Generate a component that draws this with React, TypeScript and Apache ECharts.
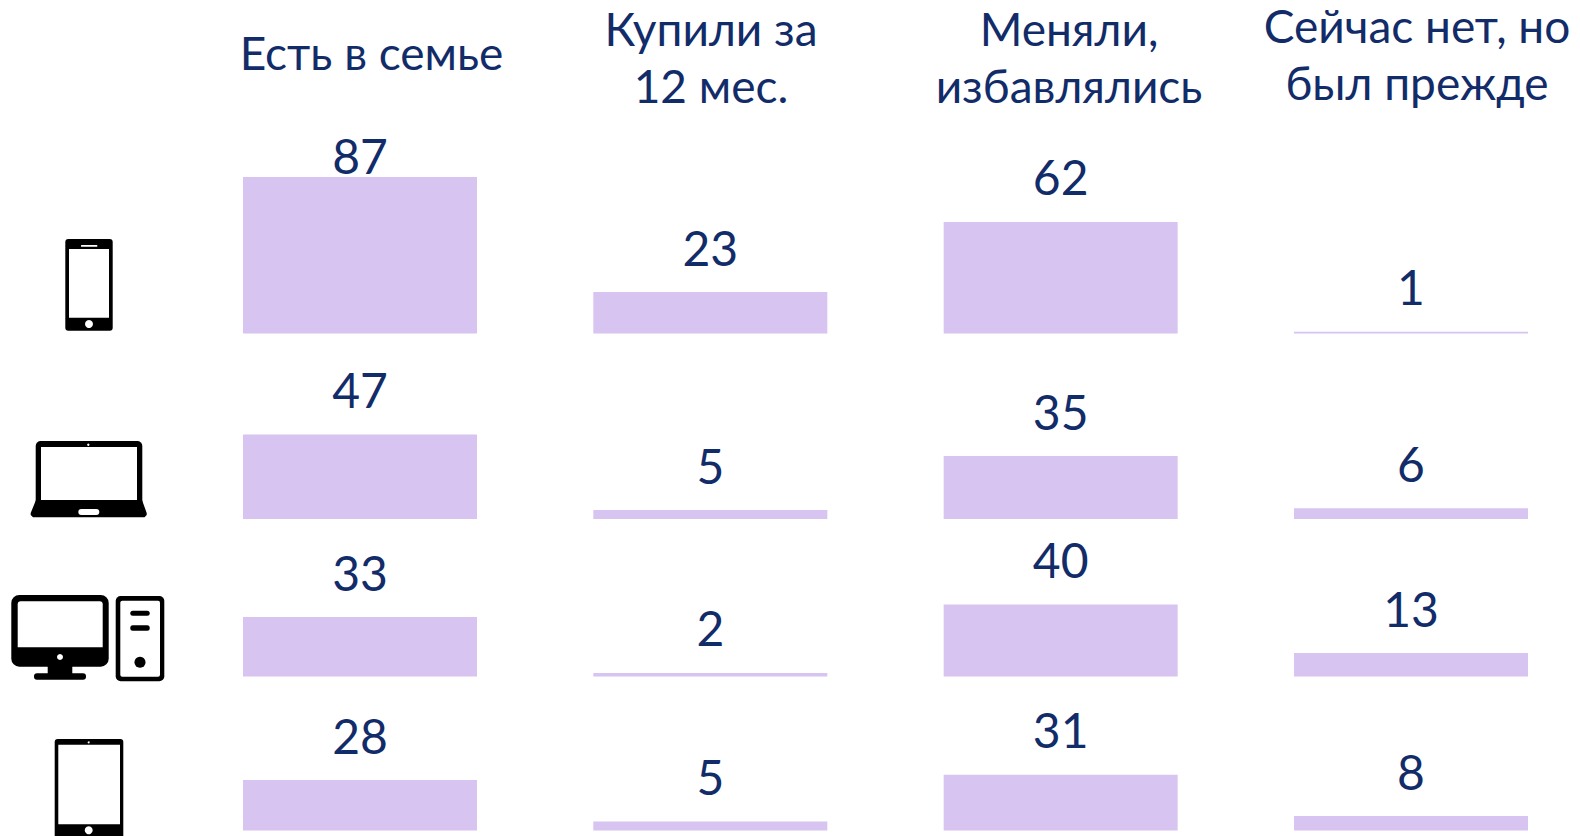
import React, { useEffect, useRef } from "react";
import * as echarts from "echarts";

const columns = ["Есть в семье", "Купили за\n12 мес.", "Меняли,\nизбавлялись", "Сейчас нет, но\nбыл прежде"];
const phone = [87, 23, 62, 1];
const laptop = [47, 5, 35, 6];
const desktop = [33, 2, 40, 13];
const tablet = [28, 5, 31, 8];
const rows = [phone, laptop, desktop, tablet];
const baselines = [333.5, 519, 676.5, 830.5];
const titleX = [371.5, 711, 1069, 1417];
const titleY = [52, 57, 57, 54];

const FONT = "Lato, 'Noto Sans', sans-serif";
const TEXT = "#122C69";
const BAR = "#D7C4F0";
const K = "#000";
const W = "#fff";

const rr = (x0: number, y0: number, x1: number, y1: number, r: any, fill: string) => ({
  type: "rect",
  shape: { x: x0, y: y0, width: x1 - x0, height: y1 - y0, r },
  style: { fill },
  silent: true,
});
const dot = (cx: number, cy: number, r: number, fill: string) => ({
  type: "circle",
  shape: { cx, cy, r },
  style: { fill },
  silent: true,
});

const icons = [
  // phone
  rr(65.3, 239, 112.7, 330.7, 3, K),
  rr(69, 249, 109, 317.7, 0, W),
  rr(81, 245, 97.3, 246.7, 0.5, W),
  dot(89, 324, 4, W),
  // laptop
  rr(35.7, 441, 142.3, 505, [5, 5, 0, 0], K),
  rr(41, 447, 137, 500, 0, W),
  dot(88.3, 444.7, 1.2, W),
  {
    type: "polygon",
    shape: { points: [[36, 500], [142, 500], [146.7, 513], [146.7, 515], [144.5, 517.3], [33, 517.3], [30.7, 515], [30.7, 513]] },
    style: { fill: K },
    silent: true,
  },
  rr(78.3, 509, 99.3, 515, 3, W),
  // desktop
  rr(11.3, 595, 108.7, 666.7, 8, K),
  rr(17.7, 601.3, 102.7, 647.3, [3, 3, 0, 0], W),
  dot(60, 657, 3, W),
  rr(47.7, 666, 72.3, 675, 0, K),
  rr(34, 673.3, 86, 679.7, 3, K),
  rr(115.7, 596, 164.3, 681.3, 5, K),
  rr(120.3, 600.7, 160, 676.7, 2, W),
  rr(130.3, 610.7, 149.7, 615.7, 2.5, K),
  rr(130.3, 625.3, 149.7, 630.7, 2.5, K),
  dot(140, 662.3, 5.5, K),
  // tablet
  rr(54.7, 739, 123.3, 845, 3, K),
  rr(58.3, 744.7, 120, 824.3, 0, W),
  dot(88.7, 742.3, 1, W),
  dot(88.7, 830.3, 4, W),
];

export default function App() {
  const ref = useRef<HTMLDivElement>(null);
  useEffect(() => {
    document.body.style.margin = "0";
    const chart = echarts.init(ref.current!, null, { renderer: "svg" });
    const grid = baselines.map((b) => ({ left: 360, width: 1051, top: b - 180, height: 180 }));
    const xAxis = rows.map((_, i) => ({
      type: "category",
      gridIndex: i,
      data: columns,
      boundaryGap: false,
      show: false,
    }));
    const yAxis = rows.map((_, i) => ({
      type: "value",
      gridIndex: i,
      min: 0,
      max: 100,
      show: false,
    }));
    const series = rows.map((r, i) => ({
      type: "bar",
      xAxisIndex: i,
      yAxisIndex: i,
      barWidth: 234,
      itemStyle: { color: BAR },
      silent: true,
      label: {
        show: true,
        position: "top",
        distance: 21,
        color: TEXT,
        fontFamily: FONT,
        fontSize: 48,
        fontWeight: 400,
      },
      data: r.map((v) =>
        v === 87 ? { value: v, label: { distance: -3 } } : v
      ),
    }));
    const titles = columns.map((c, i) => ({
      type: "text",
      x: titleX[i],
      y: titleY[i],
      silent: true,
      style: {
        text: c,
        fill: TEXT,
        font: `400 46px ${FONT}`,
        lineHeight: 57,
        align: "center",
        verticalAlign: "middle",
      },
    }));
    chart.setOption({
      animation: false,
      grid,
      xAxis,
      yAxis,
      series,
      graphic: [...titles, ...icons],
    });
    return () => chart.dispose();
  }, []);
  return <div ref={ref} style={{ width: 1580, height: 836, overflow: "hidden" }} />;
}
